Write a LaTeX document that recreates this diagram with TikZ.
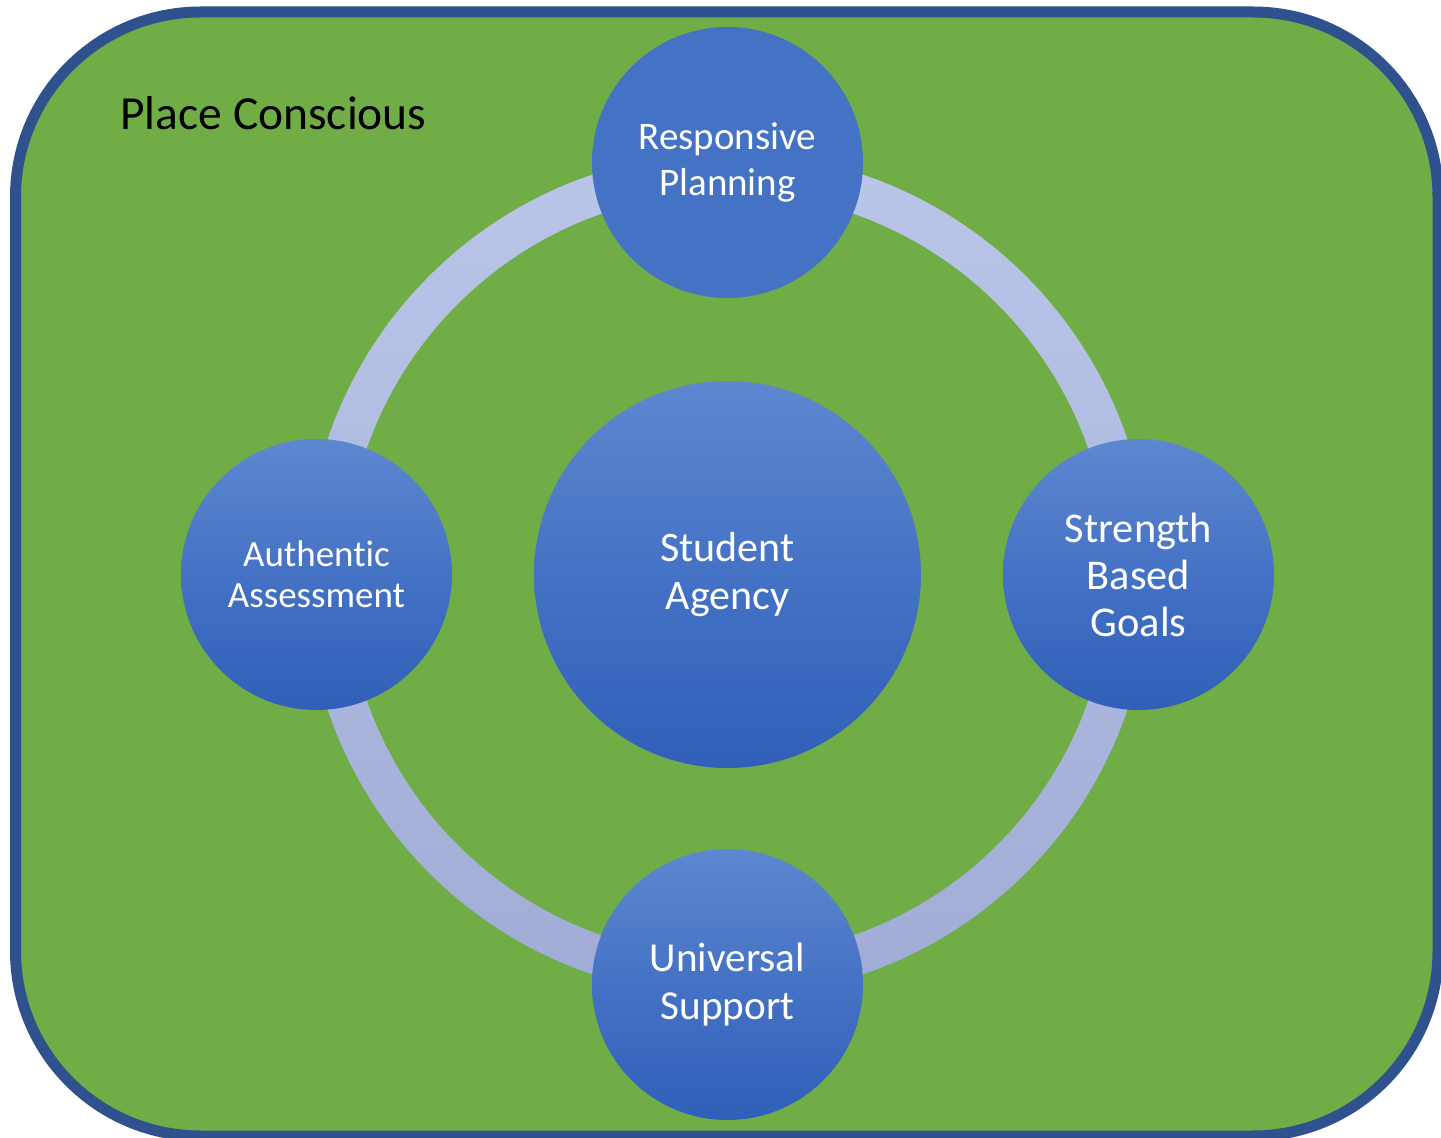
\documentclass[tikz,border=0pt]{standalone}
\usepackage{fontspec}
\setmainfont{Carlito}[Ligatures=NoCommon]
\usetikzlibrary{positioning}

\definecolor{meadow}{HTML}{70AD47}
\definecolor{frameblue}{HTML}{2F528F}
\definecolor{bubble}{HTML}{4472C4}
\definecolor{bubbletop}{HTML}{5E87D0}
\definecolor{bubblebottom}{HTML}{2F5FB8}
\definecolor{ringtop}{HTML}{BAC6E8}
\definecolor{ringbottom}{HTML}{A0ACD5}

\begin{document}
\begin{tikzpicture}[
    x = 0.5pt, y = -0.5pt,
    hub/.style = {circle, inner sep=0pt, minimum size=193.5pt, text=white, align=center,
                  top color=bubbletop, bottom color=bubblebottom, middle color=bubble},
    petal/.style = {hub, minimum size=135.5pt},
    flat/.style = {circle, inner sep=0pt, minimum size=135.5pt, text=white, align=center, fill=bubble},
]
    \clip (0,0) rectangle (1441,1138);
    % cadre vert
    \draw[frameblue, line width=5.5pt, fill=meadow, rounded corners=92.5pt] (15.5,12) rectangle (1438,1136);
    \node[anchor=base west, inner sep=0pt, font=\fontsize{23.75}{28}\selectfont] (title) at (120,130) {Place Conscious};

    \coordinate (mid) at (727.5,574.5);
    % anneau autour du centre
    \shade[even odd rule, top color=ringtop, bottom color=ringbottom]
        (mid) circle[radius=211pt] circle[radius=191pt];
    \node[hub, font=\fontsize{21}{23.7}\selectfont] (agency) at (mid) {Student\\Agency};

    \node[flat, font=\fontsize{19.5}{23.4}\selectfont] (plan) at ([yshift=206pt]agency.center) {Responsive\\Planning};
    \node[petal, font=\fontsize{21.2}{23.5}\selectfont] (goals) at ([xshift=205.5pt]agency.center) {Strength\\Based\\Goals};
    \node[petal, font=\fontsize{20.6}{24}\selectfont] (support) at ([yshift=-205pt]agency.center) {Universal\\Support};
    \node[petal, font=\fontsize{18.5}{20.3}\selectfont] (assess) at ([xshift=-205.5pt]agency.center) {Authentic\\Assessment};
\end{tikzpicture}
\end{document}
